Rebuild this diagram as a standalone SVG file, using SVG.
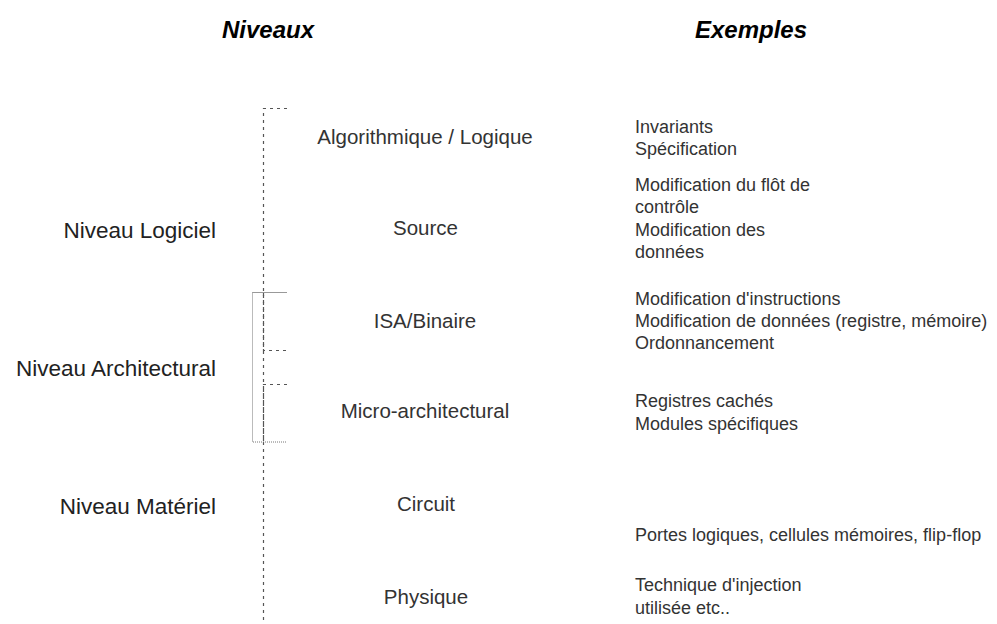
<svg xmlns="http://www.w3.org/2000/svg" width="997" height="624" viewBox="0 0 997 624">
<style>
.hdr{font-family:"Liberation Sans",Arial,sans-serif;font-weight:bold;font-style:italic;font-size:24px;fill:#000;text-anchor:middle}
.lvl{font-family:"Liberation Sans",Arial,sans-serif;font-size:22.5px;fill:#222;text-anchor:end}
.mid{font-family:"Liberation Sans",Arial,sans-serif;font-size:20.5px;fill:#333;text-anchor:middle}
.ex{font-family:"Liberation Sans",Arial,sans-serif;font-size:18px;fill:#333}
.dash{fill:none;stroke:#555;stroke-width:1.2;stroke-dasharray:3 4}
.dot{fill:none;stroke:#777;stroke-width:1;stroke-dasharray:1 1}
.solid{fill:none;stroke:#999;stroke-width:1}
</style>
<rect width="997" height="624" fill="#fff"/>
<g id="headers">
<text class="hdr" x="268" y="38">Niveaux</text>
<text class="hdr" x="751" y="38">Exemples</text>
</g>
<g id="connectors">
<path class="dash" d="M287 108.5 H263.5 V622"/>
<path class="dash" d="M263.5 293 V350.5 H287"/>
<path class="dash" d="M287 384.5 H263.5 V442"/>
<path class="solid" d="M287 292.5 H252.5"/>
<path class="dot" d="M252.5 292.5 V442 H287"/>
</g>
<g id="niveau-logiciel"><text class="lvl" x="216" y="238">Niveau Logiciel</text></g>
<g id="niveau-architectural"><text class="lvl" x="216" y="376">Niveau Architectural</text></g>
<g id="niveau-materiel"><text class="lvl" x="216" y="514">Niveau Matériel</text></g>
<g id="algorithmique"><text class="mid" x="425" y="144">Algorithmique / Logique</text></g>
<g id="source"><text class="mid" x="425.5" y="235">Source</text></g>
<g id="isa"><text class="mid" x="425" y="328">ISA/Binaire</text></g>
<g id="micro"><text class="mid" x="425" y="418">Micro-architectural</text></g>
<g id="circuit"><text class="mid" x="426" y="511">Circuit</text></g>
<g id="physique"><text class="mid" x="426" y="604">Physique</text></g>
<g id="ex-algo">
<text class="ex" x="635" y="133">Invariants</text>
<text class="ex" x="635" y="155">Spécification</text>
</g>
<g id="ex-source">
<text class="ex" x="635" y="191">Modification du flôt de</text>
<text class="ex" x="635" y="213">contrôle</text>
<text class="ex" x="635" y="236">Modification des</text>
<text class="ex" x="635" y="258">données</text>
</g>
<g id="ex-isa">
<text class="ex" x="635" y="305">Modification d'instructions</text>
<text class="ex" x="635" y="327">Modification de données (registre, mémoire)</text>
<text class="ex" x="635" y="349">Ordonnancement</text>
</g>
<g id="ex-micro">
<text class="ex" x="635" y="407">Registres cachés</text>
<text class="ex" x="635" y="430">Modules spécifiques</text>
</g>
<g id="ex-circuit">
<text class="ex" x="635" y="541">Portes logiques, cellules mémoires, flip-flop</text>
</g>
<g id="ex-physique">
<text class="ex" x="635" y="591">Technique d'injection</text>
<text class="ex" x="635" y="614">utilisée etc..</text>
</g>
</svg>
